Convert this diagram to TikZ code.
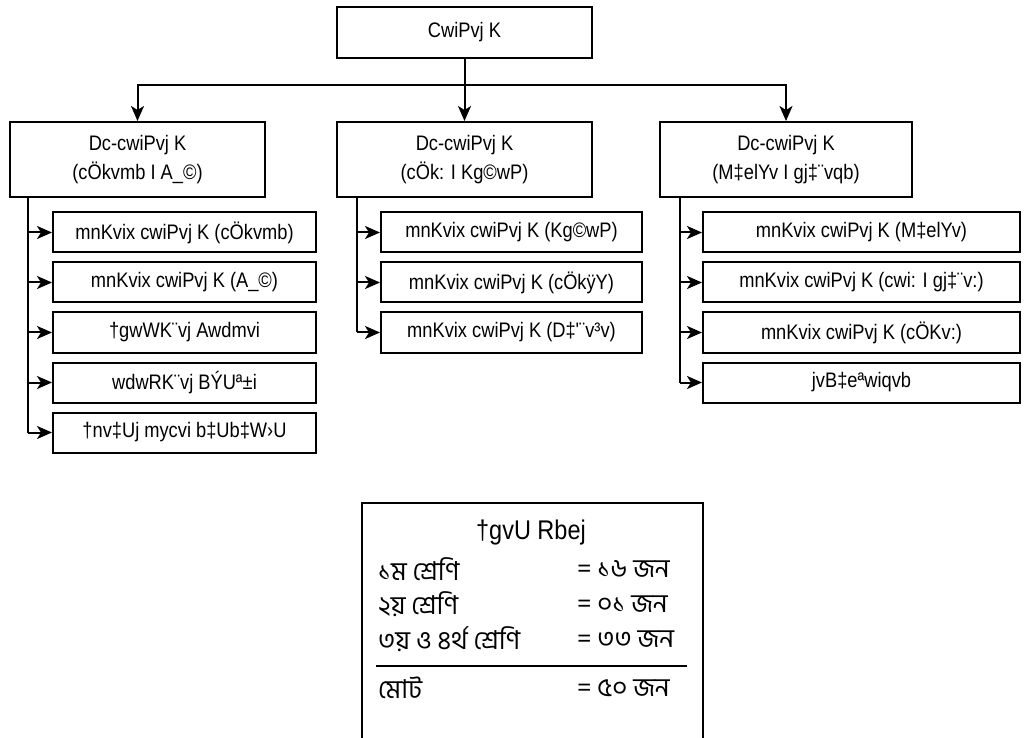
\documentclass[tikz,border=0pt]{standalone}
\usepackage{fontspec}
\usetikzlibrary{arrows.meta}
\newfontfamily\bij[FakeStretch=0.87]{Liberation Sans}
\newfontfamily\bn[Script=Bengali]{Hind Siliguri}
\tikzset{
  box/.style={draw, line width=2pt, rectangle, inner sep=0pt, align=center,
    font=\bij\fontsize{21}{29}\selectfont},
  arr/.style={line width=2pt, -{Stealth[length=15pt,width=13pt,inset=4pt]}},
  ln/.style={line width=2pt},
  bnt/.style={font=\bn\fontsize{26}{30}\selectfont, inner sep=0pt, anchor=west},
}
\begin{document}
\begin{tikzpicture}[x=1pt,y=-1pt]
\useasboundingbox (0,0) rectangle (1029,738);
% top
\node[box, minimum width=255pt, minimum height=51pt] (top) at (464.5,32.5) {CwiPvj K};
% level 1
\node[box, minimum width=255pt, minimum height=75pt] (la) at (137.5,159.5) {Dc-cwiPvj K\\(cÖkvmb I A\_©)};
\node[box, minimum width=255pt, minimum height=75pt] (lb) at (464.5,159.5) {Dc-cwiPvj K\\(cÖk: I Kg©wP)};
\node[box, minimum width=252pt, minimum height=75pt] (lc) at (786,159.5) {Dc-cwiPvj K\\(M‡elYv I gj‡¨vqb)};
\coordinate (j) at (464.5,85);
\draw[ln] (top.south) -- (j);
\draw[arr] (j) -| (la.north);
\draw[arr] (j) -| (lc.north);
\draw[arr] (j) -- (lb.north);
% left subs
\foreach \i/\t in {1/{mnKvix cwiPvj K (cÖkvmb)},2/{mnKvix cwiPvj K (A\_©)},3/{†gwWK¨vj Awdmvi},4/{wdwRK¨vj BÝUª±i},5/{†nv‡Uj mycvi b‡Ub‡W›U}}{
  \node[box, minimum width=263pt, minimum height=40pt] (a\i) at (184.5,{232.5+50*(\i-1)}) {\t};
  \coordinate (ta\i) at (28,{232.5+50*(\i-1)});
  \draw[arr] (ta\i) -- (a\i.west);
}
\coordinate (ta0) at (28,197);
\draw[ln] (ta0) -- (ta5);
% middle subs
\foreach \i/\t in {1/{mnKvix cwiPvj K (Kg©wP)},2/{mnKvix cwiPvj K (cÖkÿY)},3/{mnKvix cwiPvj K (D‡'¨v³v)}}{
  \node[box, minimum width=261pt, minimum height=40pt] (b\i) at (511.5,{232.5+50*(\i-1)}) {\t};
  \coordinate (tb\i) at (357,{232.5+50*(\i-1)});
  \draw[arr] (tb\i) -- (b\i.west);
}
\coordinate (tb0) at (357,197);
\draw[ln] (tb0) -- (tb3);
% right subs
\foreach \i/\t in {1/{mnKvix cwiPvj K (M‡elYv)},2/{mnKvix cwiPvj K (cwi: I gj‡¨v:)},3/{mnKvix cwiPvj K (cÖKv:)},4/{jvB‡eªwiqvb}}{
  \node[box, minimum width=317pt, minimum height=40pt] (c\i) at (861.5,{232.5+50*(\i-1)}) {\t};
  \coordinate (tc\i) at (680,{232.5+50*(\i-1)});
  \draw[arr] (tc\i) -- (c\i.west);
}
\coordinate (tc0) at (680,197);
\draw[ln] (tc0) -- (tc4);
% bottom box
\coordinate (bl) at (362,738);
\coordinate (tl) at (362,503);
\coordinate (tr) at (703,503);
\coordinate (br) at (703,738);
\draw[ln] (bl) -- (tl) -- (tr) -- (br);
\node[font=\bij\fontsize{27}{30}\selectfont, inner sep=0pt] (title) at (531,533) {†gvU Rbej};
\node[bnt] (r1) at (378,569) {১ম শ্রেণি};
\node[bnt] (r2) at (378,604) {২য় শ্রেণি};
\node[bnt] (r3) at (378,639) {৩য় ও ৪র্থ শ্রেণি};
\node[bnt] (r4) at (378,688) {মোট};
\node[bnt] (e1) at (577,569) {= ১৬ জন};
\node[bnt] (e2) at (577,604) {= ০১ জন};
\node[bnt] (e3) at (577,639) {= ৩৩ জন};
\node[bnt] (e4) at (577,688) {= ৫০ জন};
\coordinate (rl) at (376,666);
\coordinate (rr) at (687,666);
\draw[ln] (rl) -- (rr);
\end{tikzpicture}
\end{document}
